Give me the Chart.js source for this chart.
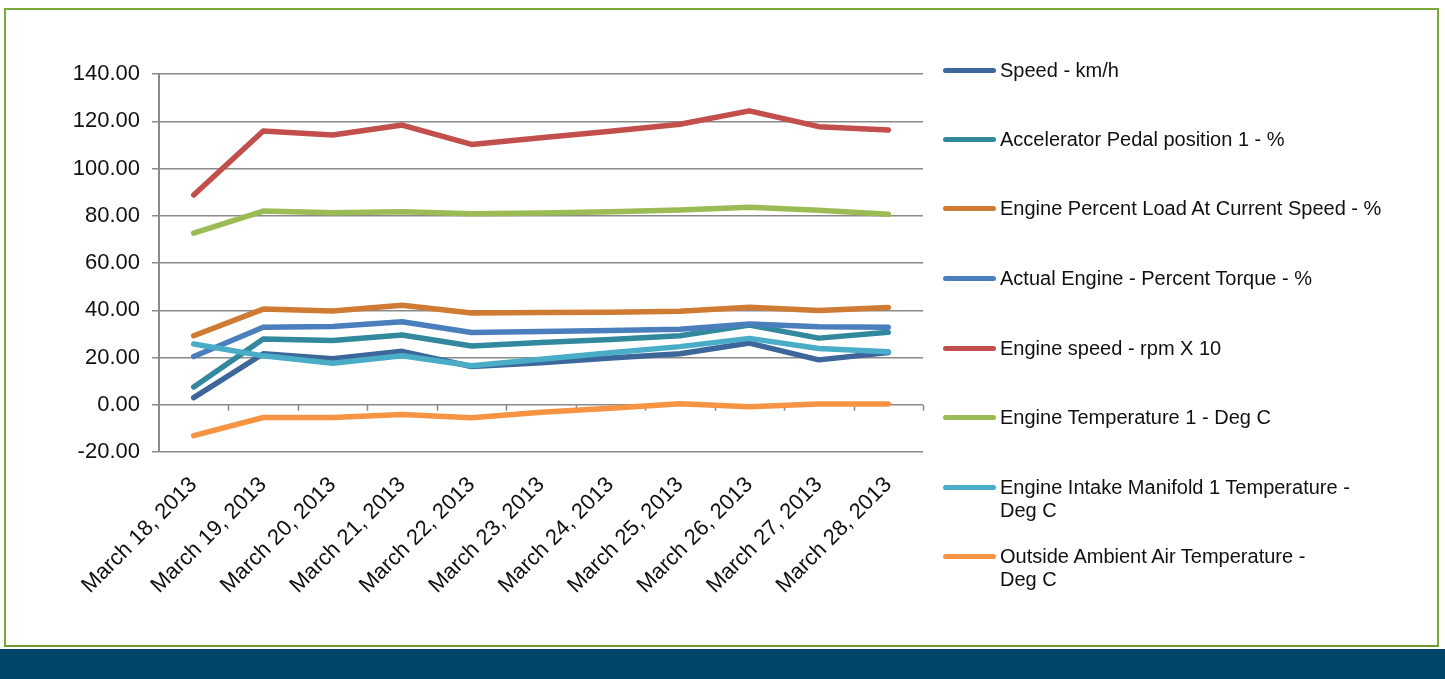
<!DOCTYPE html>
<html>
<head>
<meta charset="utf-8">
<script src="https://cdn.jsdelivr.net/npm/chart.js@4/dist/chart.umd.min.js"></script>
<style>
  html, body { margin: 0; padding: 0; background: #ffffff; }
  #wrap { position: relative; width: 1445px; height: 679px; overflow: hidden; }
  #frame { position: absolute; left: 4px; top: 8px; width: 1435px; height: 639px;
           border: 2px solid #7aa83a; border-bottom-color: #6f9a33; box-sizing: border-box; }
  #band { position: absolute; left: 0; top: 649px; width: 1445px; height: 30px; background: #00466a; }
  #chart { position: absolute; left: 0; top: 0; }
  #legend { position: absolute; left: 0; top: 0; font-family: "Liberation Sans", Arial, sans-serif;
            font-size: 20px; line-height: 23px; color: #111; }
  .item { position: absolute; left: 1000px; white-space: nowrap; }
  .swatch { position: absolute; left: 943px; width: 53px; height: 5px; border-radius: 3px; }
</style>
</head>
<body>
<div id="wrap">
  <div id="frame"></div>
  <canvas id="chart" width="1445" height="679"></canvas>
  <div id="legend"></div>
  <div id="band"></div>
</div>
<script>
// categories and tick values
const dates = [
  "March 18, 2013", "March 19, 2013", "March 20, 2013", "March 21, 2013",
  "March 22, 2013", "March 23, 2013", "March 24, 2013", "March 25, 2013",
  "March 26, 2013", "March 27, 2013", "March 28, 2013"
];
const yMin = -20;
const yMax = 140;
const yStep = 20;

// series values
const speedKmh      = [3.0, 21.6, 19.5, 22.6, 16.2, 17.8, 19.8, 21.6, 26.1, 19.0, 22.1];
const pedalPos      = [7.5, 27.8, 27.2, 29.5, 24.9, 26.3, 27.6, 29.2, 33.7, 28.2, 30.7];
const engineLoad    = [29.2, 40.5, 39.7, 42.1, 38.8, 39.0, 39.2, 39.6, 41.3, 39.9, 41.2];
const engineTorque  = [20.4, 32.8, 33.1, 35.1, 30.6, 31.0, 31.4, 32.0, 34.2, 33.0, 32.8];
const engineRpm10   = [88.8, 115.9, 114.2, 118.4, 110.2, 113.0, 115.8, 118.7, 124.4, 117.7, 116.3];
const engineTemp    = [72.6, 82.0, 81.3, 81.7, 80.8, 81.2, 81.7, 82.4, 83.6, 82.3, 80.6];
const intakeTemp    = [25.7, 20.7, 17.6, 20.7, 16.5, 19.3, 22.0, 24.6, 28.1, 23.8, 22.4];
const ambientTemp   = [-13.1, -5.4, -5.4, -4.1, -5.5, -3.2, -1.5, 0.4, -0.8, 0.3, 0.3];

const seriesNames = [
  "Speed - km/h",
  "Accelerator Pedal position 1 - %",
  "Engine Percent Load At Current Speed - %",
  "Actual Engine - Percent Torque - %",
  "Engine speed - rpm X 10",
  "Engine Temperature 1 - Deg C",
  "Engine Intake Manifold 1 Temperature -\nDeg C",
  "Outside Ambient Air Temperature -\nDeg C"
];
const seriesValues = [speedKmh, pedalPos, engineLoad, engineTorque, engineRpm10, engineTemp, intakeTemp, ambientTemp];
const seriesColors = ["#3d679b", "#32899e", "#cf7b34", "#4a7ebd", "#c24f4c", "#9bbb55", "#4aadc8", "#f79443"];

const gridGray = "#8a8a8a";
const font = { family: "'Liberation Sans', Arial, sans-serif", size: 22 };

// small tick marks hanging below the zero line, between categories
const zeroTicks = {
  id: "zeroTicks",
  beforeDatasetsDraw(chart) {
    const x = chart.scales.x;
    const y = chart.scales.y;
    const y0 = y.getPixelForValue(0);
    const step = (x.right - x.left) / dates.length;
    const ctx = chart.ctx;
    ctx.save();
    ctx.strokeStyle = gridGray;
    ctx.lineWidth = 1.5;
    ctx.beginPath();
    for (let i = 1; i <= dates.length; i++) {
      const px = Math.round(x.left + i * step) + 0.5;
      ctx.moveTo(px, y0);
      ctx.lineTo(px, y0 + 6);
    }
    ctx.stroke();
    ctx.restore();
  }
};

const chart = new Chart(document.getElementById("chart"), {
  type: "line",
  data: {
    labels: dates,
    datasets: seriesNames.map((name, i) => ({
      label: name,
      data: seriesValues[i],
      borderColor: seriesColors[i],
      backgroundColor: seriesColors[i],
      borderWidth: 5.5,
      borderCapStyle: "round",
      borderJoinStyle: "round",
      pointRadius: 0,
      tension: 0,
      order: seriesNames.length - i
    }))
  },
  options: {
    responsive: false,
    animation: false,
    layout: { padding: { left: 0, top: 74, right: 522, bottom: 0 } },
    plugins: { legend: { display: false }, tooltip: { enabled: false } },
    scales: {
      x: {
        offset: true,
        grid: { display: false },
        border: { display: false },
        ticks: {
          font: font, color: "#111", autoSkip: false,
          minRotation: 45, maxRotation: 45, padding: 12
        },
        afterFit(scale) { scale.height = 227; }
      },
      y: {
        min: yMin, max: yMax,
        grid: { color: gridGray, lineWidth: 1.5, tickLength: 7 },
        border: { display: true, color: gridGray, width: 2 },
        ticks: {
          stepSize: yStep, font: font, color: "#111", padding: 12,
          callback: v => v.toFixed(2)
        },
        afterFit(scale) { scale.width = 159; }
      }
    }
  },
  plugins: [zeroTicks]
});

// legend on the right, one entry per series
const legend = document.getElementById("legend");
const legendTop = [70, 139, 208, 278, 348, 417, 487, 556];
chart.data.datasets.forEach((ds, i) => {
  const sw = document.createElement("div");
  sw.className = "swatch";
  sw.style.top = (legendTop[i] - 2.5) + "px";
  sw.style.background = ds.borderColor;
  legend.appendChild(sw);
  const item = document.createElement("div");
  item.className = "item";
  item.style.top = (legendTop[i] - 11.5) + "px";
  item.innerHTML = ds.label.split("\n").join("<br>");
  legend.appendChild(item);
});
</script>
</body>
</html>
